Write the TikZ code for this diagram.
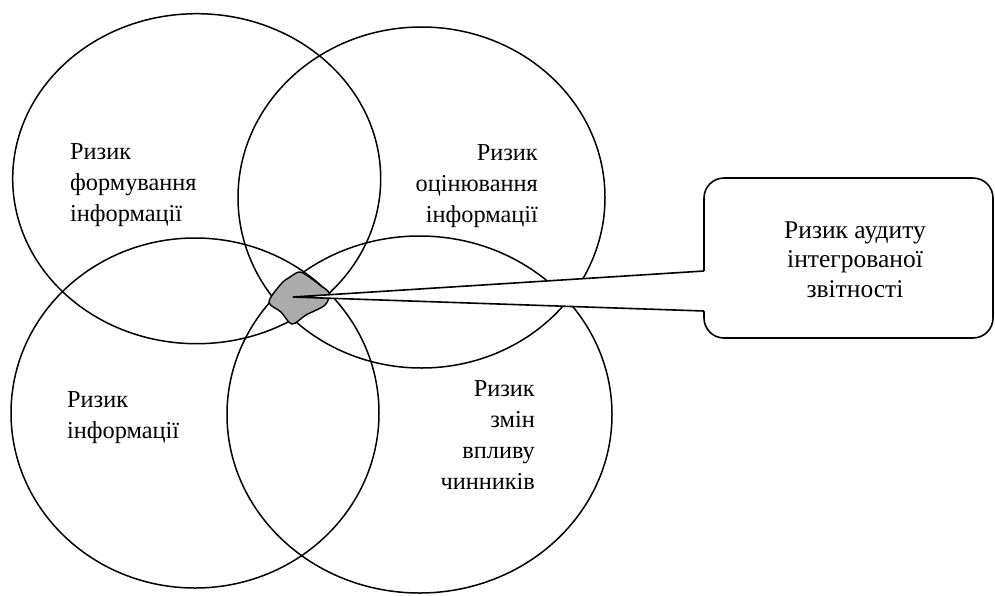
\documentclass[tikz,border=0pt]{standalone}
\usepackage{fontspec}
\setmainfont{Liberation Serif}
\begin{document}
\begin{tikzpicture}[x=1pt,y=-1pt,
  ring/.style={draw=black,line width=1.5pt},
  lbl/.style={inner sep=0pt,font=\fontsize{24.3}{31}\selectfont},
  calloutbox/.style={draw=black,line width=1.6pt,fill=white,rounded corners=20pt,
    minimum width=289pt,minimum height=160pt,inner sep=0pt},
  wedge/.style={draw=black,line width=1.6pt,line join=miter}]
\useasboundingbox (0,0) rectangle (995,595);
% ellipses
\draw[ring] (196.7,178.7) ellipse [x radius=184, y radius=165];
\draw[ring] (421.5,197.5) ellipse [x radius=183.5, y radius=170.5];
\draw[ring] (195,413) ellipse [x radius=184, y radius=175];
\draw[ring] (419.5,414.5) ellipse [x radius=192.5, y radius=178.5];
% central blob
\fill[fill=black!33] plot[smooth cycle,tension=0.55] coordinates
  {(300,272) (312,279) (321,286) (329,293) (325,305) (306,315) (292,324) (281,312) (269,302) (281,284) (290,277)};
\draw[line width=1.4pt] plot[smooth cycle,tension=0.55] coordinates
  {(300,272) (312,279) (321,286) (329,293) (325,305) (306,315) (292,324) (281,312) (269,302) (281,284) (290,277)};
% callout
\node[calloutbox] (callout) at (848.5,258) {};
\coordinate (tip) at (293,297);
\coordinate (wa) at (704,271);
\coordinate (wb) at (704,311);
\fill[white] (tip) -- (wa) -- ([xshift=1.5pt]wa) -- ([xshift=1.5pt]wb) -- (wb) -- cycle;
\draw[wedge] (wa) -- (tip) -- (wb);
% labels
\node[lbl,anchor=base west] (t1) at (70,159)
  {\begin{tabular}[t]{@{}l@{}}Ризик\\формування\\інформації\end{tabular}};
\node[lbl,anchor=base east] (t2) at (538,160)
  {\begin{tabular}[t]{@{}r@{}}Ризик\\оцінювання\\інформації\end{tabular}};
\node[lbl,anchor=base west] (t3) at (67,407)
  {\begin{tabular}[t]{@{}l@{}}Ризик\\інформації\end{tabular}};
\node[lbl,anchor=base east] (t4) at (535,396)
  {\begin{tabular}[t]{@{}r@{}}Ризик\\змін\\впливу\\чинників\end{tabular}};
\node[inner sep=0pt,font=\fontsize{25.5}{29.5}\selectfont,anchor=base] (t5) at (855,238)
  {\begin{tabular}[t]{@{}c@{}}Ризик аудиту\\інтегрованої\\звітності\end{tabular}};
\end{tikzpicture}
\end{document}
